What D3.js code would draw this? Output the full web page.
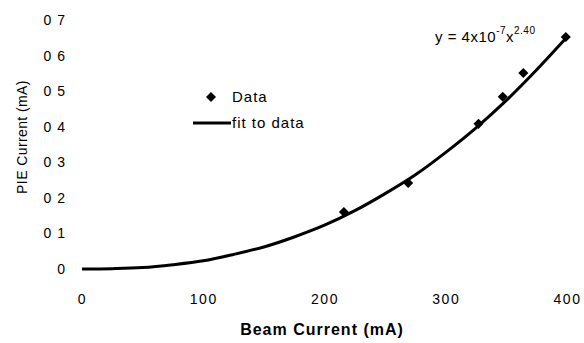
<!DOCTYPE html>
<html>
<head>
<meta charset="utf-8">
<script src="https://d3js.org/d3.v7.min.js"></script>
<style>
    body { margin: 0; background: #fff; }
    text { font-family: 'Liberation Sans', Arial, sans-serif; fill: #000; }
</style>
</head>
<body>
<div id="graph"></div>
<script>
'use strict';

// measured data points (beam current in mA, PIE current in mA)
const beamCurrent = [216, 269, 327, 347, 364, 399];
const pieCurrent = [0.160, 0.242, 0.408, 0.484, 0.551, 0.652];

// fit curve
const fitX = [0, 25, 50, 75, 100, 125, 150, 175, 200, 225, 250, 275, 300, 325, 350, 375, 400];
const fitY = [0, 0.001, 0.004, 0.012, 0.023, 0.041, 0.062, 0.090, 0.123, 0.164, 0.212, 0.265, 0.328, 0.397, 0.474, 0.560, 0.652];

const xTicks = [0, 100, 200, 300, 400];
const yTicks = [0, 0.1, 0.2, 0.3, 0.4, 0.5, 0.6, 0.7];
const yTickLabels = ['0', '0 1', '0 2', '0 3', '0 4', '0 5', '0 6', '0 7'];

const measurements = {
    width: 584,
    height: 343,
    left: 82,
    right: 567,
    top: 20,
    bottom: 269
};

let svg = d3.select('#graph')
    .append('svg')
    .attr('width', measurements.width)
    .attr('height', measurements.height);

let xScale = d3.scaleLinear()
    .domain([0, 400])
    .range([measurements.left, measurements.right]);

let yScale = d3.scaleLinear()
    .domain([0, 0.7])
    .range([measurements.bottom, measurements.top]);

// x axis: labels only, no line
let xAxis = d3.axisBottom(xScale)
    .tickValues(xTicks)
    .tickSize(0)
    .tickPadding(0);
let gx = svg.append('g')
    .attr('transform', 'translate(0, 294)')
    .call(xAxis);
gx.select('.domain').remove();
gx.selectAll('text')
    .attr('font-size', 14)
    .attr('letter-spacing', 1.5)
    .attr('font-family', null);

// y axis: labels only
let yAxis = d3.axisLeft(yScale)
    .tickValues(yTicks)
    .tickFormat((d, i) => yTickLabels[i])
    .tickSize(0)
    .tickPadding(0);
let gy = svg.append('g')
    .attr('transform', 'translate(66, 0)')
    .call(yAxis);
gy.select('.domain').remove();
gy.selectAll('text')
    .attr('font-size', 14)
    .attr('letter-spacing', 1)
    .attr('font-family', null);

// fit line
let fitData = fitX.map((x, i) => ({x: x, y: fitY[i]}));
let line = d3.line()
    .x((d) => xScale(d.x))
    .y((d) => yScale(d.y))
    .curve(d3.curveMonotoneX);

svg.append('path')
    .datum(fitData)
    .attr('d', line)
    .attr('fill', 'none')
    .attr('stroke', '#000')
    .attr('stroke-width', 3);

// data markers (diamonds)
let diamond = d3.symbol().type(d3.symbolDiamond2).size(64);
svg.selectAll('.dot')
    .data(beamCurrent)
    .enter()
    .append('path')
    .attr('class', 'dot')
    .attr('d', diamond)
    .attr('transform', (d, i) => 'translate(' + xScale(d) + ',' + yScale(pieCurrent[i]) + ')')
    .attr('fill', '#000');

// legend
svg.append('path')
    .attr('d', diamond)
    .attr('transform', 'translate(211, 97)')
    .attr('fill', '#000');
svg.append('text')
    .attr('x', 232)
    .attr('y', 102)
    .attr('font-size', 15)
    .attr('letter-spacing', 1)
    .text('Data');
svg.append('line')
    .attr('x1', 193)
    .attr('x2', 231)
    .attr('y1', 123)
    .attr('y2', 123)
    .attr('stroke', '#000')
    .attr('stroke-width', 3);
svg.append('text')
    .attr('x', 232)
    .attr('y', 128)
    .attr('font-size', 15)
    .attr('letter-spacing', 1)
    .text('fit to data');

// fit equation
let eq = svg.append('text')
    .attr('x', 435)
    .attr('y', 42)
    .attr('font-size', 15)
    .attr('letter-spacing', 0.5);
eq.append('tspan').text('y = 4x10');
eq.append('tspan').attr('dy', -8).attr('font-size', 10).text('-7');
eq.append('tspan').attr('dy', 8).text('x');
eq.append('tspan').attr('dy', -8).attr('font-size', 10).text('2.40');

// axis titles
svg.append('text')
    .attr('x', 322)
    .attr('y', 335)
    .attr('text-anchor', 'middle')
    .attr('font-size', 16)
    .attr('font-weight', 'bold')
    .attr('letter-spacing', 1)
    .text('Beam Current (mA)');

svg.append('text')
    .attr('transform', 'translate(27, 137)rotate(-90)')
    .attr('text-anchor', 'middle')
    .attr('font-size', 14)
    .attr('letter-spacing', 0.4)
    .text('PIE Current (mA)');
</script>
</body>
</html>
